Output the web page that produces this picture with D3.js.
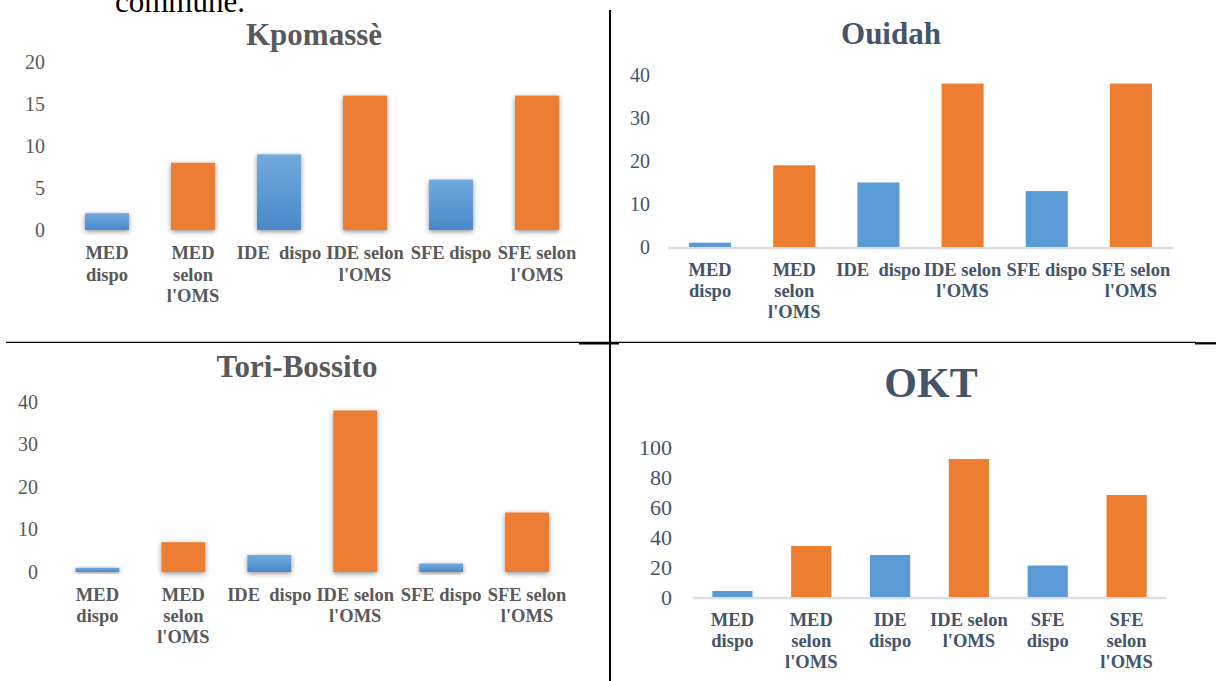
<!DOCTYPE html>
<html>
<head>
<meta charset="utf-8">
<script src="https://cdn.jsdelivr.net/npm/d3@7"></script>
<style>
  html, body { margin: 0; padding: 0; background: #fff; }
  svg { display: block; font-family: "Liberation Serif", "Times New Roman", serif; }
  svg text { font-family: "Liberation Serif", "Times New Roman", serif; }
  .cat { white-space: pre; }
</style>
</head>
<body>
<svg id="fig" width="1218" height="681"></svg>
<script>
// Staff available vs. WHO norm, per commune
const categories = ["MED dispo", "MED selon l'OMS", "IDE dispo", "IDE selon l'OMS", "SFE dispo", "SFE selon l'OMS"];
const isNorm = [false, true, false, true, false, true];

const kpomasseValues = [2, 8, 9, 16, 6, 16];
const ouidahValues = [1, 19, 15, 38, 13, 38];
const toriValues = [1, 7, 4, 38, 2, 14];
const oktValues = [4, 34, 28, 92, 21, 68];

const ticks20 = [0, 5, 10, 15, 20];
const ticks40 = [0, 10, 20, 30, 40];
const ticks100 = [0, 20, 40, 60, 80, 100];

const wideLabels = [["MED", "dispo"], ["MED", "selon", "l'OMS"], ["IDE  dispo"], ["IDE selon", "l'OMS"], ["SFE dispo"], ["SFE selon", "l'OMS"]];
const narrowLabels = [["MED", "dispo"], ["MED", "selon", "l'OMS"], ["IDE", "dispo"], ["IDE selon", "l'OMS"], ["SFE", "dispo"], ["SFE", "selon", "l'OMS"]];

const svg = d3.select("#fig");
const defs = svg.append("defs");

// soft drop shadow used by the bevelled panels
const shadow = defs.append("filter").attr("id", "shadow")
  .attr("x", "-30%").attr("y", "-30%").attr("width", "160%").attr("height", "160%");
shadow.append("feDropShadow").attr("dx", 0).attr("dy", 1.5)
  .attr("stdDeviation", 2.4).attr("flood-color", "#000").attr("flood-opacity", 0.45);

const grad = defs.append("linearGradient").attr("id", "blueGrad")
  .attr("x1", 0).attr("y1", 0).attr("x2", 0).attr("y2", 1);
grad.append("stop").attr("offset", "0%").attr("stop-color", "#72A9DD");
grad.append("stop").attr("offset", "100%").attr("stop-color", "#4889CA");

const panels = [
  { title: "Kpomassè", values: kpomasseValues, ticks: ticks20, labels: wideLabels,
    x0: 64, x1: 580, y0: 230, y1: 62, pad: 0.49, tickRight: 45, tickSize: 20,
    titleX: 314, titleY: 45, titleSize: 31, labelY: 259, lineH: 21.5,
    ink: "#595959", styled: true },
  { title: "Ouidah", values: ouidahValues, ticks: ticks40, labels: wideLabels,
    x0: 668, x1: 1173, y0: 247, y1: 75, pad: 0.5, tickRight: 650, tickSize: 20,
    titleX: 891, titleY: 44, titleSize: 31, labelY: 276, lineH: 21,
    ink: "#44546A", styled: false },
  { title: "Tori-Bossito", values: toriValues, ticks: ticks40, labels: wideLabels,
    x0: 54.5, x1: 570, y0: 572, y1: 402, pad: 0.49, tickRight: 38, tickSize: 20,
    titleX: 297, titleY: 377, titleSize: 31, labelY: 601, lineH: 21,
    ink: "#595959", styled: true },
  { title: "OKT", values: oktValues, ticks: ticks100, labels: narrowLabels,
    x0: 693, x1: 1166, y0: 597, y1: 447, pad: 0.49, tickRight: 672, tickSize: 22,
    titleX: 931, titleY: 397, titleSize: 42, labelY: 626, lineH: 21,
    ink: "#44546A", styled: false }
];

panels.forEach(p => {
  const g = svg.append("g");
  const x = d3.scaleBand().domain(categories).range([p.x0, p.x1])
    .paddingInner(p.pad).paddingOuter(p.pad / 2);
  const yMax = p.ticks[p.ticks.length - 1];
  const y = d3.scaleLinear().domain([0, yMax]).range([p.y0, p.y1]);

  // title
  g.append("text").attr("x", p.titleX).attr("y", p.titleY)
    .attr("text-anchor", "middle").attr("font-weight", "bold")
    .attr("font-size", p.titleSize).attr("fill", p.ink).text(p.title);

  // value axis labels
  const yAxis = d3.axisLeft(y).tickValues(p.ticks).tickSize(0).tickPadding(0);
  const ya = g.append("g").attr("transform", `translate(${p.tickRight},0)`).call(yAxis)
    .attr("font-family", null).attr("font-size", p.tickSize);
  ya.select(".domain").remove();
  ya.selectAll("text").attr("font-size", p.tickSize).attr("fill", p.ink);

  // baseline
  g.append("line").attr("x1", p.x0).attr("x2", p.x1)
    .attr("y1", y(0) + 1).attr("y2", y(0) + 1)
    .attr("stroke", p.styled ? "#D9D9D9" : "#D9DFE8").attr("stroke-width", p.styled ? 3 : 2.5)
    .attr("filter", p.styled ? "url(#shadow)" : null);

  // bars
  g.selectAll("rect.bar").data(p.values).join("rect")
    .attr("class", "bar")
    .attr("x", (d, i) => x(categories[i]))
    .attr("width", x.bandwidth())
    .attr("y", d => y(d))
    .attr("height", d => y(0) - y(d))
    .attr("fill", (d, i) => isNorm[i] ? "#ED7D31" : (p.styled ? "url(#blueGrad)" : "#5B9BD5"))
    .attr("filter", p.styled ? "url(#shadow)" : null);

  // category labels
  const cat = g.selectAll("text.cat").data(p.labels).join("text")
    .attr("class", "cat")
    .attr("text-anchor", "middle").attr("font-weight", "bold")
    .attr("font-size", 18.5).attr("fill", p.ink);
  cat.each(function (lines, i) {
    const cx = x(categories[i]) + x.bandwidth() / 2;
    d3.select(this).selectAll("tspan").data(lines).join("tspan")
      .attr("x", cx).attr("y", (l, j) => p.labelY + j * p.lineH).text(l => l);
  });
});

// table rules around the four panels
const rules = svg.append("g").attr("stroke", "#000");
rules.append("line").attr("x1", 610).attr("x2", 610).attr("y1", 10).attr("y2", 681).attr("stroke-width", 2);
rules.append("line").attr("x1", 6).attr("x2", 1196).attr("y1", 342.3).attr("y2", 342.3).attr("stroke-width", 1.3);
rules.append("line").attr("x1", 579).attr("x2", 619).attr("y1", 343.3).attr("y2", 343.3).attr("stroke-width", 2.3);
rules.append("line").attr("x1", 1195).attr("x2", 1216).attr("y1", 343.3).attr("y2", 343.3).attr("stroke-width", 2.3);

// end of the preceding sentence, cut by the top edge
svg.append("text").attr("x", 115).attr("y", 12).attr("font-size", 31).attr("fill", "#000").text("commune.");
</script>
</body>
</html>
